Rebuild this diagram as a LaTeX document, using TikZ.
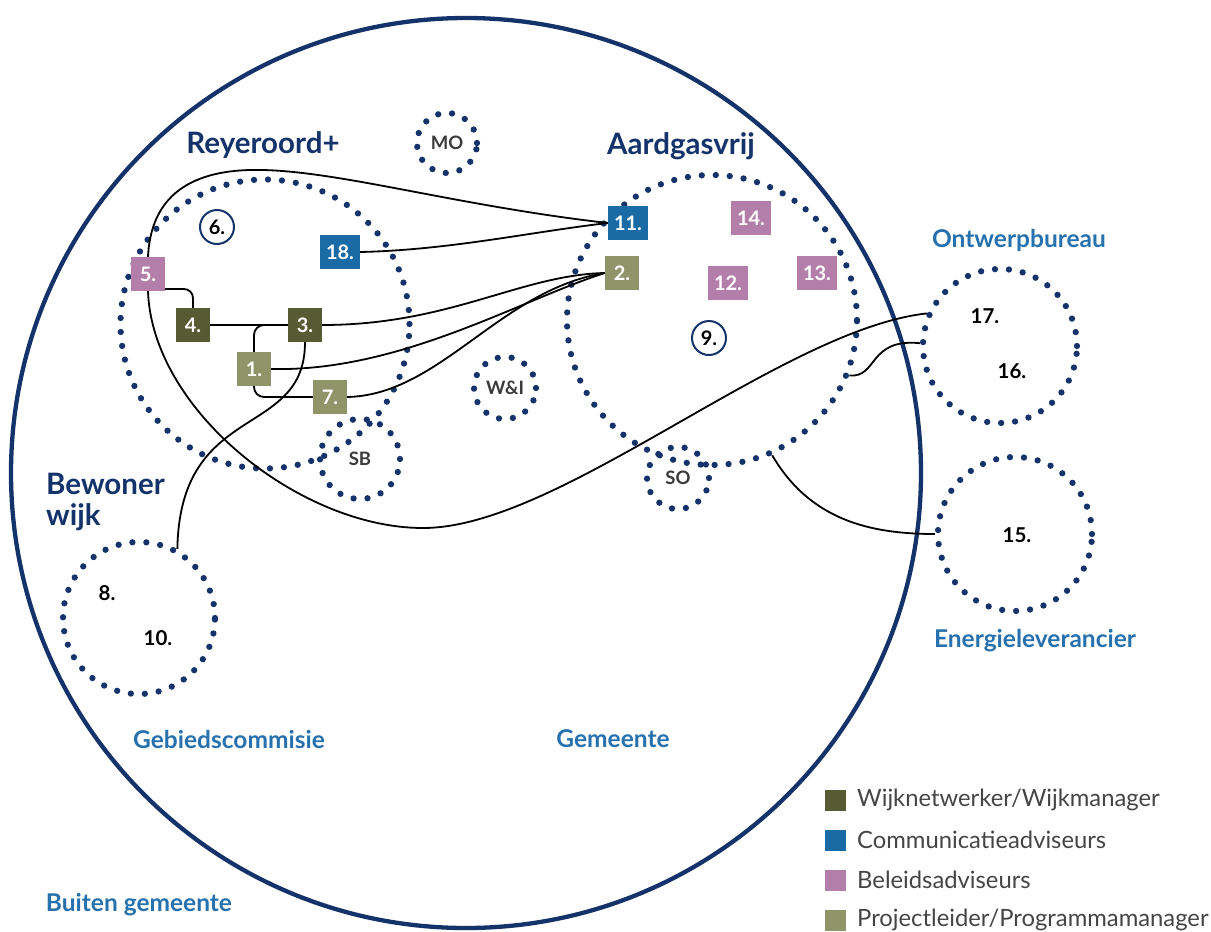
\documentclass[tikz,border=0pt]{standalone}
\usepackage{fontspec}
\setmainfont{Lato}
\definecolor{navy}{HTML}{14336B}
\definecolor{lblue}{HTML}{2771AE}
\definecolor{colive}{HTML}{565B33}
\definecolor{cblue}{HTML}{1A6AA6}
\definecolor{cpink}{HTML}{B47EAA}
\definecolor{ckhaki}{HTML}{8F9569}
\definecolor{dgrey}{HTML}{3A3A3A}
\definecolor{lgrey}{HTML}{454545}
\newcommand\myfs[1]{\fontsize{#1}{#1}\selectfont}
\begin{document}
\begin{tikzpicture}[x=1pt,y=-1pt,
  dotcirc/.style={circle, draw=navy, line width=6.3pt, dash pattern=on 0pt off 14pt, line cap=round, minimum size=#1, inner sep=0pt},
  sq/.style={fill=#1, text=white, font=\myfs{20}\bfseries, minimum width=34pt, minimum height=34pt, inner xsep=6pt, inner ysep=0pt},
  cnum/.style={circle, draw=navy, line width=2pt, minimum size=34pt, inner sep=0pt, font=\myfs{20}\bfseries, text=black},
  numtext/.style={font=\myfs{20.5}\bfseries, text=black, inner sep=0pt},
  lbsmall/.style={font=\myfs{18.5}\bfseries, text=dgrey},
  bigtitle/.style={font=\myfs{29.5}\bfseries, text=navy, inner sep=0pt},
  blab/.style={font=\myfs{24.5}\bfseries, text=lblue, inner sep=0pt},
  conn/.style={line width=1.8pt, draw=black},
  legsq/.style={minimum size=21pt, inner sep=0pt, fill=#1},
  legtext/.style={font=\myfs{23.8}, text=lgrey, anchor=west, inner sep=0pt}
]
\useasboundingbox (0,0) rectangle (1211,932);

% outer circle (Gemeente)
\node[circle, draw=navy, line width=4.3pt, minimum size=910pt, inner sep=0pt] (gem) at (466,473) {};

% dotted groups
\node[dotcirc=289pt] (rey) at (265,324) {};
\node[dotcirc=290pt] (aard) at (712,320) {};
\node[dotcirc=60pt, lbsmall] (mo) at (447,143) {MO};
\node[dotcirc=62pt, lbsmall] (wi) at (505,388) {W\&I};
\node[dotcirc=80pt, lbsmall] (sb) at (360,459) {SB};
\node[dotcirc=62pt, lbsmall] (so) at (678,478) {SO};
\node[dotcirc=154pt] (ontw) at (1000,346) {};
\node[dotcirc=154pt] (energ) at (1015,534) {};
\node[dotcirc=152pt] (bew) at (139,618) {};

% titles
\node[bigtitle] (trey) at (263,145) {Reyeroord+};
\node[bigtitle] (taard) at (681,146) {Aardgasvrij};
\node[bigtitle, anchor=west, align=left, font=\fontsize{29.5}{31}\selectfont\bfseries] (tbew) at (46,502) {Bewoner\\wijk};
\node[blab] (tontw) at (1019,240) {Ontwerpbureau};
\node[blab] (tenerg) at (1035,641) {Energieleverancier};
\node[blab] (tgeb) at (229,739) {Gebiedscommisie};
\node[blab] (tgem) at (613,739) {Gemeente};
\node[blab] (tbuit) at (139,905) {Buiten gemeente};

% numbers
\node[cnum] (c6) at (217,227) {6.};
\node[cnum] (c9) at (709,338) {9.};
\node[numtext] (n17) at (985,316) {17.};
\node[numtext] (n16) at (1012,371) {16.};
\node[numtext] (n15) at (1017,535) {15.};
\node[numtext] (n8) at (107,593) {8.};
\node[numtext] (n10) at (158,638) {10.};

% squares
\node[sq=cpink] (s5) at (148,274) {5.};
\node[sq=colive] (s4) at (193,325) {4.};
\node[sq=colive] (s3) at (305,325) {3.};
\node[sq=ckhaki] (s1) at (254,369) {1.};
\node[sq=ckhaki] (s7) at (330,397) {7.};
\node[sq=cblue] (s18) at (340,252) {18.};
\node[sq=cblue] (s11) at (628,223) {11.};
\node[sq=ckhaki] (s2) at (622,273) {2.};
\node[sq=cpink] (s14) at (751,218) {14.};
\node[sq=cpink] (s12) at (728,283) {12.};
\node[sq=cpink] (s13) at (817,273) {13.};

% helper coordinates
\coordinate (k1) at (250,170);
\coordinate (k2) at (423,528);

% connectors
\draw[conn] (s11.west) .. controls (450,205) and (330,168) .. (k1) .. controls (170,172) and (150,215) .. (s5.north);
\draw[conn] (s5.south) .. controls (152,410) and (300,528) .. (k2) .. controls (560,528) and (780,330) .. (ontw.156);
\draw[conn] (s18.east) .. controls (450,250) and (530,232) .. (s11.west);
\draw[conn, rounded corners=9pt] ([yshift=-15pt]s5.east) -| (s4.north);
\draw[conn] (s4.east) -- (s3.west);
\draw[conn] (s3.east) .. controls (450,325) and (520,275) .. (s2.west);
\draw[conn] (s1.east) .. controls (400,372) and (520,300) .. (s2.west);
\draw[conn] (s7.east) .. controls (440,395) and (500,290) .. (s2.west);
\draw[conn, rounded corners=10pt] (s1.north) |- (s3.west);
\draw[conn, rounded corners=10pt] (s1.south) |- (s7.west);
\draw[conn] (s3.south) .. controls (305,440) and (180,400) .. (bew.61);
\draw[conn] (aard.-22) .. controls (878,378) and (868,338) .. (ontw.178);
\draw[conn] (aard.-66) .. controls (810,520) and (870,534) .. (energ.west);

% legend
\node[legsq=colive] (l1) at (835.5,800) {};
\node[legsq=cblue] (l2) at (835.5,840) {};
\node[legsq=cpink] (l3) at (835.5,880) {};
\node[legsq=ckhaki] (l4) at (835.5,920) {};
\node[legtext] (lt1) at (857,800) {Wijknetwerker/Wijkmanager};
\node[legtext] (lt2) at (857,840) {Communicatieadviseurs};
\node[legtext] (lt3) at (857,880) {Beleidsadviseurs};
\node[legtext] (lt4) at (857,920) {Projectleider/Programmamanager};
\end{tikzpicture}
\end{document}
